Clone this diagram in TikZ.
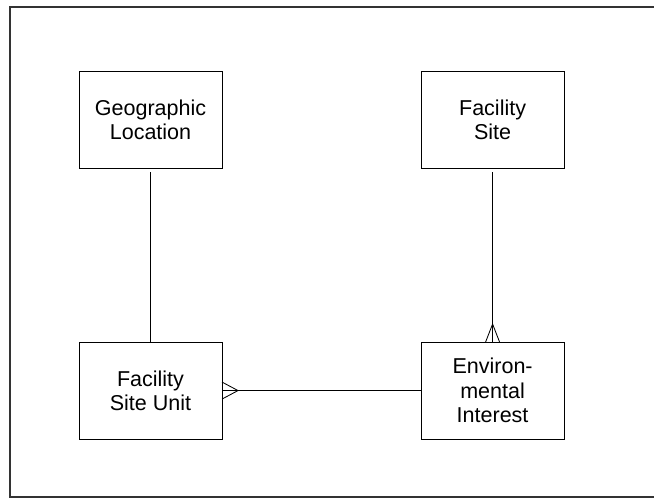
\documentclass[tikz,border=0pt]{standalone}
\usepackage{fontspec}
\setmainfont{Liberation Sans}
\usetikzlibrary{calc,positioning}

\begin{document}
\begin{tikzpicture}[x=0.025cm,y=-0.025cm,node distance=4.35cm and 4.975cm,align=center,
		entity/.style={draw,line width=0.6pt,minimum width=3.575cm,minimum height=2.425cm,
			outer sep=0pt,inner sep=2pt,font=\fontsize{15.3}{17.3}\selectfont},
		rel/.style={line width=0.6pt}]
			\useasboundingbox (0,0) rectangle (654,499);
			\draw[line width=1pt,black!80] (660,7) -- (10,7) -- (10,497) -- (660,497);
			\node[entity] at (150.5,119.5) (geo) {Geographic\\Location};
			\node[entity] [right=of geo] (fs) {Facility\\Site};
			\node[entity] [below=of geo] (fsu) {Facility\\Site Unit};
			\node[entity] [below=of fs] (ei) {Environ-\\mental\\Interest};
			\path[rel]
				(geo) edge [shorten <=0.1cm] (fsu)
				(fs) edge [shorten <=0.1cm] (ei)
				(fsu) edge (ei);
			% crow's feet
			\draw[rel] ($(fsu.east)+(0,-8.5)$) -- ($(fsu.east)+(16,0)$) -- ($(fsu.east)+(0,8.5)$);
			\draw[rel] ($(ei.north)+(-7,0)$) -- ($(ei.north)+(0,-18)$) -- ($(ei.north)+(7,0)$);
		\end{tikzpicture}
\end{document}
